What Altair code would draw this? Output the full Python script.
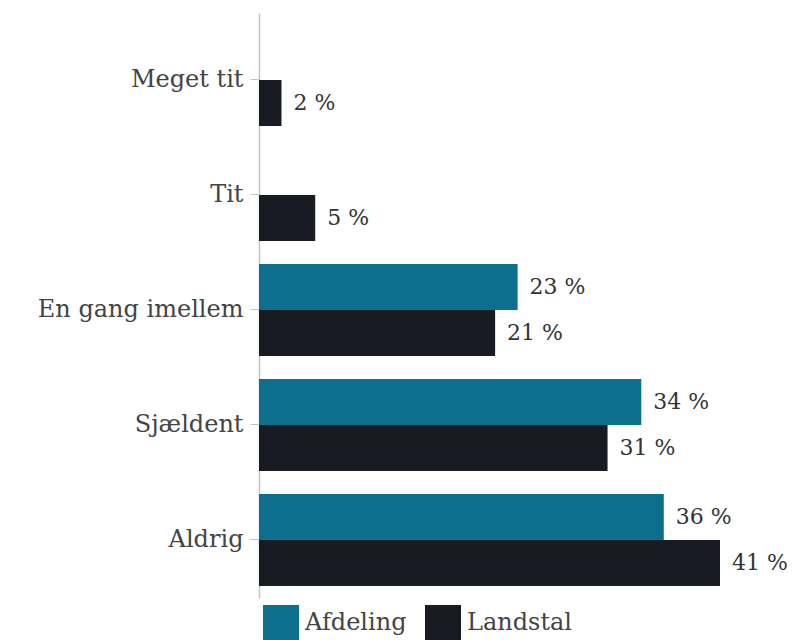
import altair as alt
import pandas as pd

categories = ["Meget tit", "Tit", "En gang imellem", "Sjældent", "Aldrig"]
series = ["Afdeling", "Landstal"]
afdeling = [None, None, 23, 34, 36]
landstal = [2, 5, 21, 31, 41]
colors = ["#0b6f8d", "#181b22"]

rows = []
for c, a, l in zip(categories, afdeling, landstal):
    if a is not None:
        rows.append({"kategori": c, "gruppe": "Afdeling", "pct": a})
    rows.append({"kategori": c, "gruppe": "Landstal", "pct": l})
df = pd.DataFrame(rows)
df["label"] = df["pct"].astype(str) + " %"

FONT = "DejaVu Serif"

y_enc = alt.Y(
    "kategori:N",
    sort=categories,
    scale=alt.Scale(paddingInner=0.2, paddingOuter=0.1435, align=0.636),
    axis=alt.Axis(
        title=None,
        labelFont=FONT,
        labelFontSize=24,
        labelColor="#444444",
        labelLimit=400,
        domainColor="#c4c4c4",
        domainWidth=1.5,
        tickColor="#c4c4c4",
        tickSize=9,
        labelPadding=7,
    ),
)
yoff = alt.YOffset("gruppe:N", sort=series, scale=alt.Scale(domain=series, paddingInner=0, paddingOuter=0))
x_enc = alt.X("pct:Q", scale=alt.Scale(domain=[0, 41], nice=False), axis=None)

bars = alt.Chart(df).mark_bar(strokeWidth=0).encode(
    y=y_enc,
    yOffset=yoff,
    x=x_enc,
    color=alt.Color(
        "gruppe:N",
        scale=alt.Scale(domain=series, range=colors),
        legend=alt.Legend(
            title=None,
            orient="none",
            legendX=4,
            legendY=592,
            direction="horizontal",
            symbolType="square",
            symbolSize=1296,
            symbolStrokeWidth=0,
            symbolOpacity=1,
            labelFont=FONT,
            labelFontSize=24,
            labelColor="#444444",
            labelOffset=6,
            columnPadding=18,
        ),
    ),
)

labels = alt.Chart(df).mark_text(
    align="left", baseline="middle", dx=12, font=FONT, fontSize=22, color="#333333"
).encode(
    y=alt.Y("kategori:N", sort=categories),
    yOffset=yoff,
    x=x_enc,
    text="label:N",
)

chart = (
    alt.layer(bars, labels)
    .properties(
        width=461,
        height=585,
        autosize=alt.AutoSizeParams(type="none"),
        padding={"left": 251, "top": 5, "right": 68, "bottom": 50},
    )
    .configure_view(stroke=None)
)

chart.save("out.html", embed_options={"renderer": "svg", "actions": False})
